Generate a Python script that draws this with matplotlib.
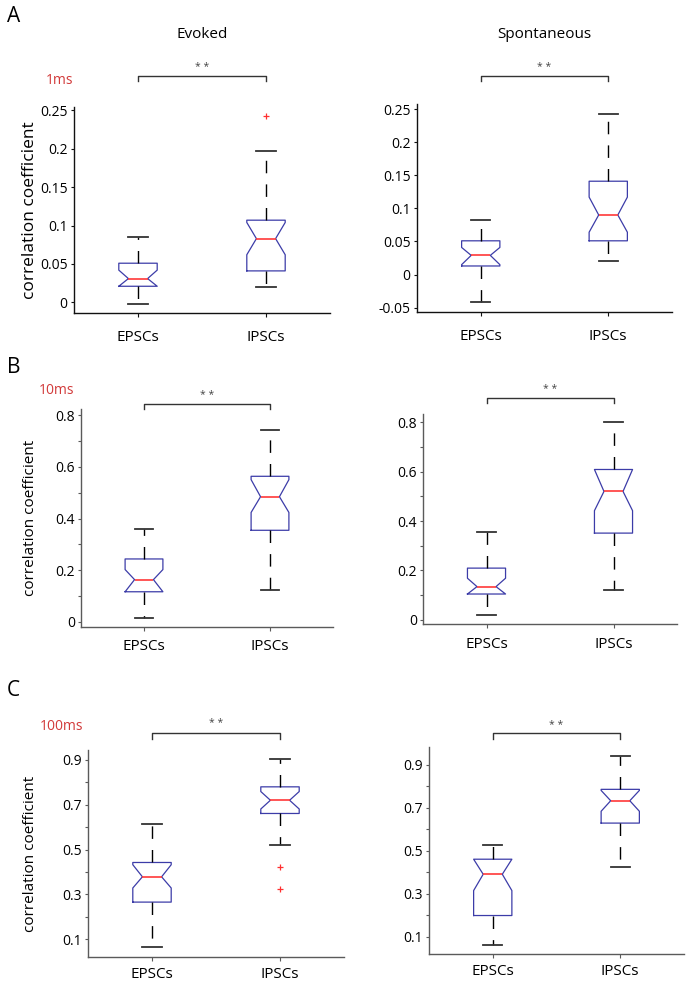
import numpy as np
import matplotlib.pyplot as plt
from matplotlib.ticker import FormatStrFormatter, MultipleLocator

plt.rcParams['font.family'] = ['Open Sans', 'DejaVu Sans']

groups = ['EPSCs', 'IPSCs']
conditions = ['Evoked', 'Spontaneous']
bin_labels = ['1ms', '10ms', '100ms']
panel_letters = ['A', 'B', 'C']

# order: A evoked, A spont, B evoked, B spont, C evoked, C spont  -> [EPSCs, IPSCs]
medians = [[0.031, 0.083], [0.029, 0.090], [0.164, 0.485],
           [0.134, 0.520], [0.378, 0.720], [0.390, 0.732]]
q1 = [[0.021, 0.041], [0.013, 0.051], [0.117, 0.355],
      [0.104, 0.351], [0.265, 0.661], [0.198, 0.628]]
q3 = [[0.051, 0.107], [0.051, 0.141], [0.244, 0.564],
      [0.209, 0.609], [0.442, 0.780], [0.460, 0.785]]
whisk_lo = [[-0.002, 0.020], [-0.042, 0.020], [0.016, 0.123],
            [0.019, 0.120], [0.064, 0.519], [0.063, 0.423]]
whisk_hi = [[0.085, 0.197], [0.082, 0.243], [0.360, 0.745],
            [0.357, 0.800], [0.614, 0.903], [0.524, 0.939]]
notch_lo = [[0.021, 0.062], [0.015, 0.064], [0.117, 0.424],
            [0.104, 0.442], [0.328, 0.681], [0.314, 0.683]]
notch_hi = [[0.042, 0.104], [0.041, 0.117], [0.203, 0.551],
            [0.168, 0.609], [0.432, 0.759], [0.460, 0.780]]
outliers = [[[], [0.242]], [[], []], [[], []],
            [[], []], [[], [0.421, 0.323]], [[], []]]

ylims = [(-0.0138, 0.2543), (-0.0565, 0.2576), (-0.0194, 0.8245),
         (-0.0176, 0.834), (0.0197, 0.9446), (0.019, 0.982)]

# layout in pixels: left, top, width, height
W, H = 691, 984
axes_px = [(74, 107, 256, 206), (417, 104, 255, 208),
           (81, 409, 252, 218), (423, 414, 254, 210),
           (88, 750, 256, 207), (429, 747, 255, 207)]
bracket_px = [(76, 81, 67), (76, 81, 67), (404, 409, 395),
              (398, 403, 389), (733, 739, 724), (733, 739, 725)]
xlabel_pad = [9, 6, 4]
ylabel_size = [12.5, 11, 11]

fig = plt.figure(figsize=(W / 100, H / 100), dpi=100)

for i in range(6):
    l, t, w, h = axes_px[i]
    ax = fig.add_axes([l / W, 1 - (t + h) / H, w / W, h / H])
    row = i // 2
    spine_col = '#111111' if row == 0 else '#5a5a5a'

    stats = []
    for j, g in enumerate(groups):
        stats.append(dict(med=medians[i][j], q1=q1[i][j], q3=q3[i][j],
                          whislo=whisk_lo[i][j], whishi=whisk_hi[i][j],
                          cilo=notch_lo[i][j], cihi=notch_hi[i][j],
                          fliers=np.array(outliers[i][j]), label=g))
    ax.bxp(stats, positions=[1, 2], widths=0.3, shownotches=True,
           manage_ticks=False,
           boxprops=dict(color='#3c3ca8', lw=0.9),
           medianprops=dict(color='#ff3838', lw=1.2),
           whiskerprops=dict(color='black', lw=1.0, linestyle=(0, (9, 8))),
           capprops=dict(color='#333333', lw=1.3),
           flierprops=dict(marker='+', markeredgecolor='#ff3030',
                           markersize=4, mew=0.9))

    ax.set_xlim(0.5, 2.5)
    ax.set_ylim(*ylims[i])
    ax.set_xticks([1, 2], groups, fontsize=11)
    ax.yaxis.set_major_formatter(FormatStrFormatter('%g'))
    if row == 0:
        ax.yaxis.set_major_locator(MultipleLocator(0.05))
    elif row == 1:
        ax.yaxis.set_major_locator(MultipleLocator(0.2))
        ax.yaxis.set_minor_locator(MultipleLocator(0.1))
    else:
        ax.set_yticks([0.1, 0.3, 0.5, 0.7, 0.9])
        ax.set_yticks([0.2, 0.4, 0.6, 0.8], minor=True)
    ax.tick_params(axis='y', labelsize=10, length=2.5, width=0.8,
                   colors=spine_col, labelcolor='black', pad=2)
    ax.tick_params(axis='y', which='minor', length=2.5, width=0.8, colors=spine_col)
    ax.tick_params(axis='x', length=3, width=0.8, colors=spine_col,
                   labelcolor='black', pad=xlabel_pad[row])
    for s in ['top', 'right']:
        ax.spines[s].set_visible(False)
    for s in ['left', 'bottom']:
        ax.spines[s].set_color(spine_col)
        ax.spines[s].set_linewidth(1.0)

    # significance bracket
    yl, ye, ys = bracket_px[i]
    fy = lambda p: 1 + (t - p) / h
    ax.plot([1, 1, 2, 2], [fy(ye), fy(yl), fy(yl), fy(ye)],
            transform=ax.get_xaxis_transform(), color='#333333', lw=1.0,
            clip_on=False)
    ax.text(1.5, fy(ys), '* *', transform=ax.get_xaxis_transform(),
            ha='center', va='center', fontsize=7.5, color='#444444')

    if i % 2 == 0:
        ax.set_ylabel('correlation coefficient', fontsize=ylabel_size[row])
        ax.yaxis.set_label_coords((38 - l) / w, 0.5)
    if row == 0:
        ax.set_title(conditions[i % 2], fontsize=11, pad=0,
                     y=1 + (t - 35) / h, va='center')

for letter, ly in zip(panel_letters, [17, 367, 691]):
    fig.text(7 / W, 1 - ly / H, letter, fontsize=15, ha='left', va='center')
for lab, (bx, by) in zip(bin_labels, [(60, 80), (57, 391), (62, 726)]):
    fig.text(bx / W, 1 - by / H, lab, fontsize=10, color='#d23a3a',
             ha='center', va='center')

fig.savefig('out.png', dpi=100)
